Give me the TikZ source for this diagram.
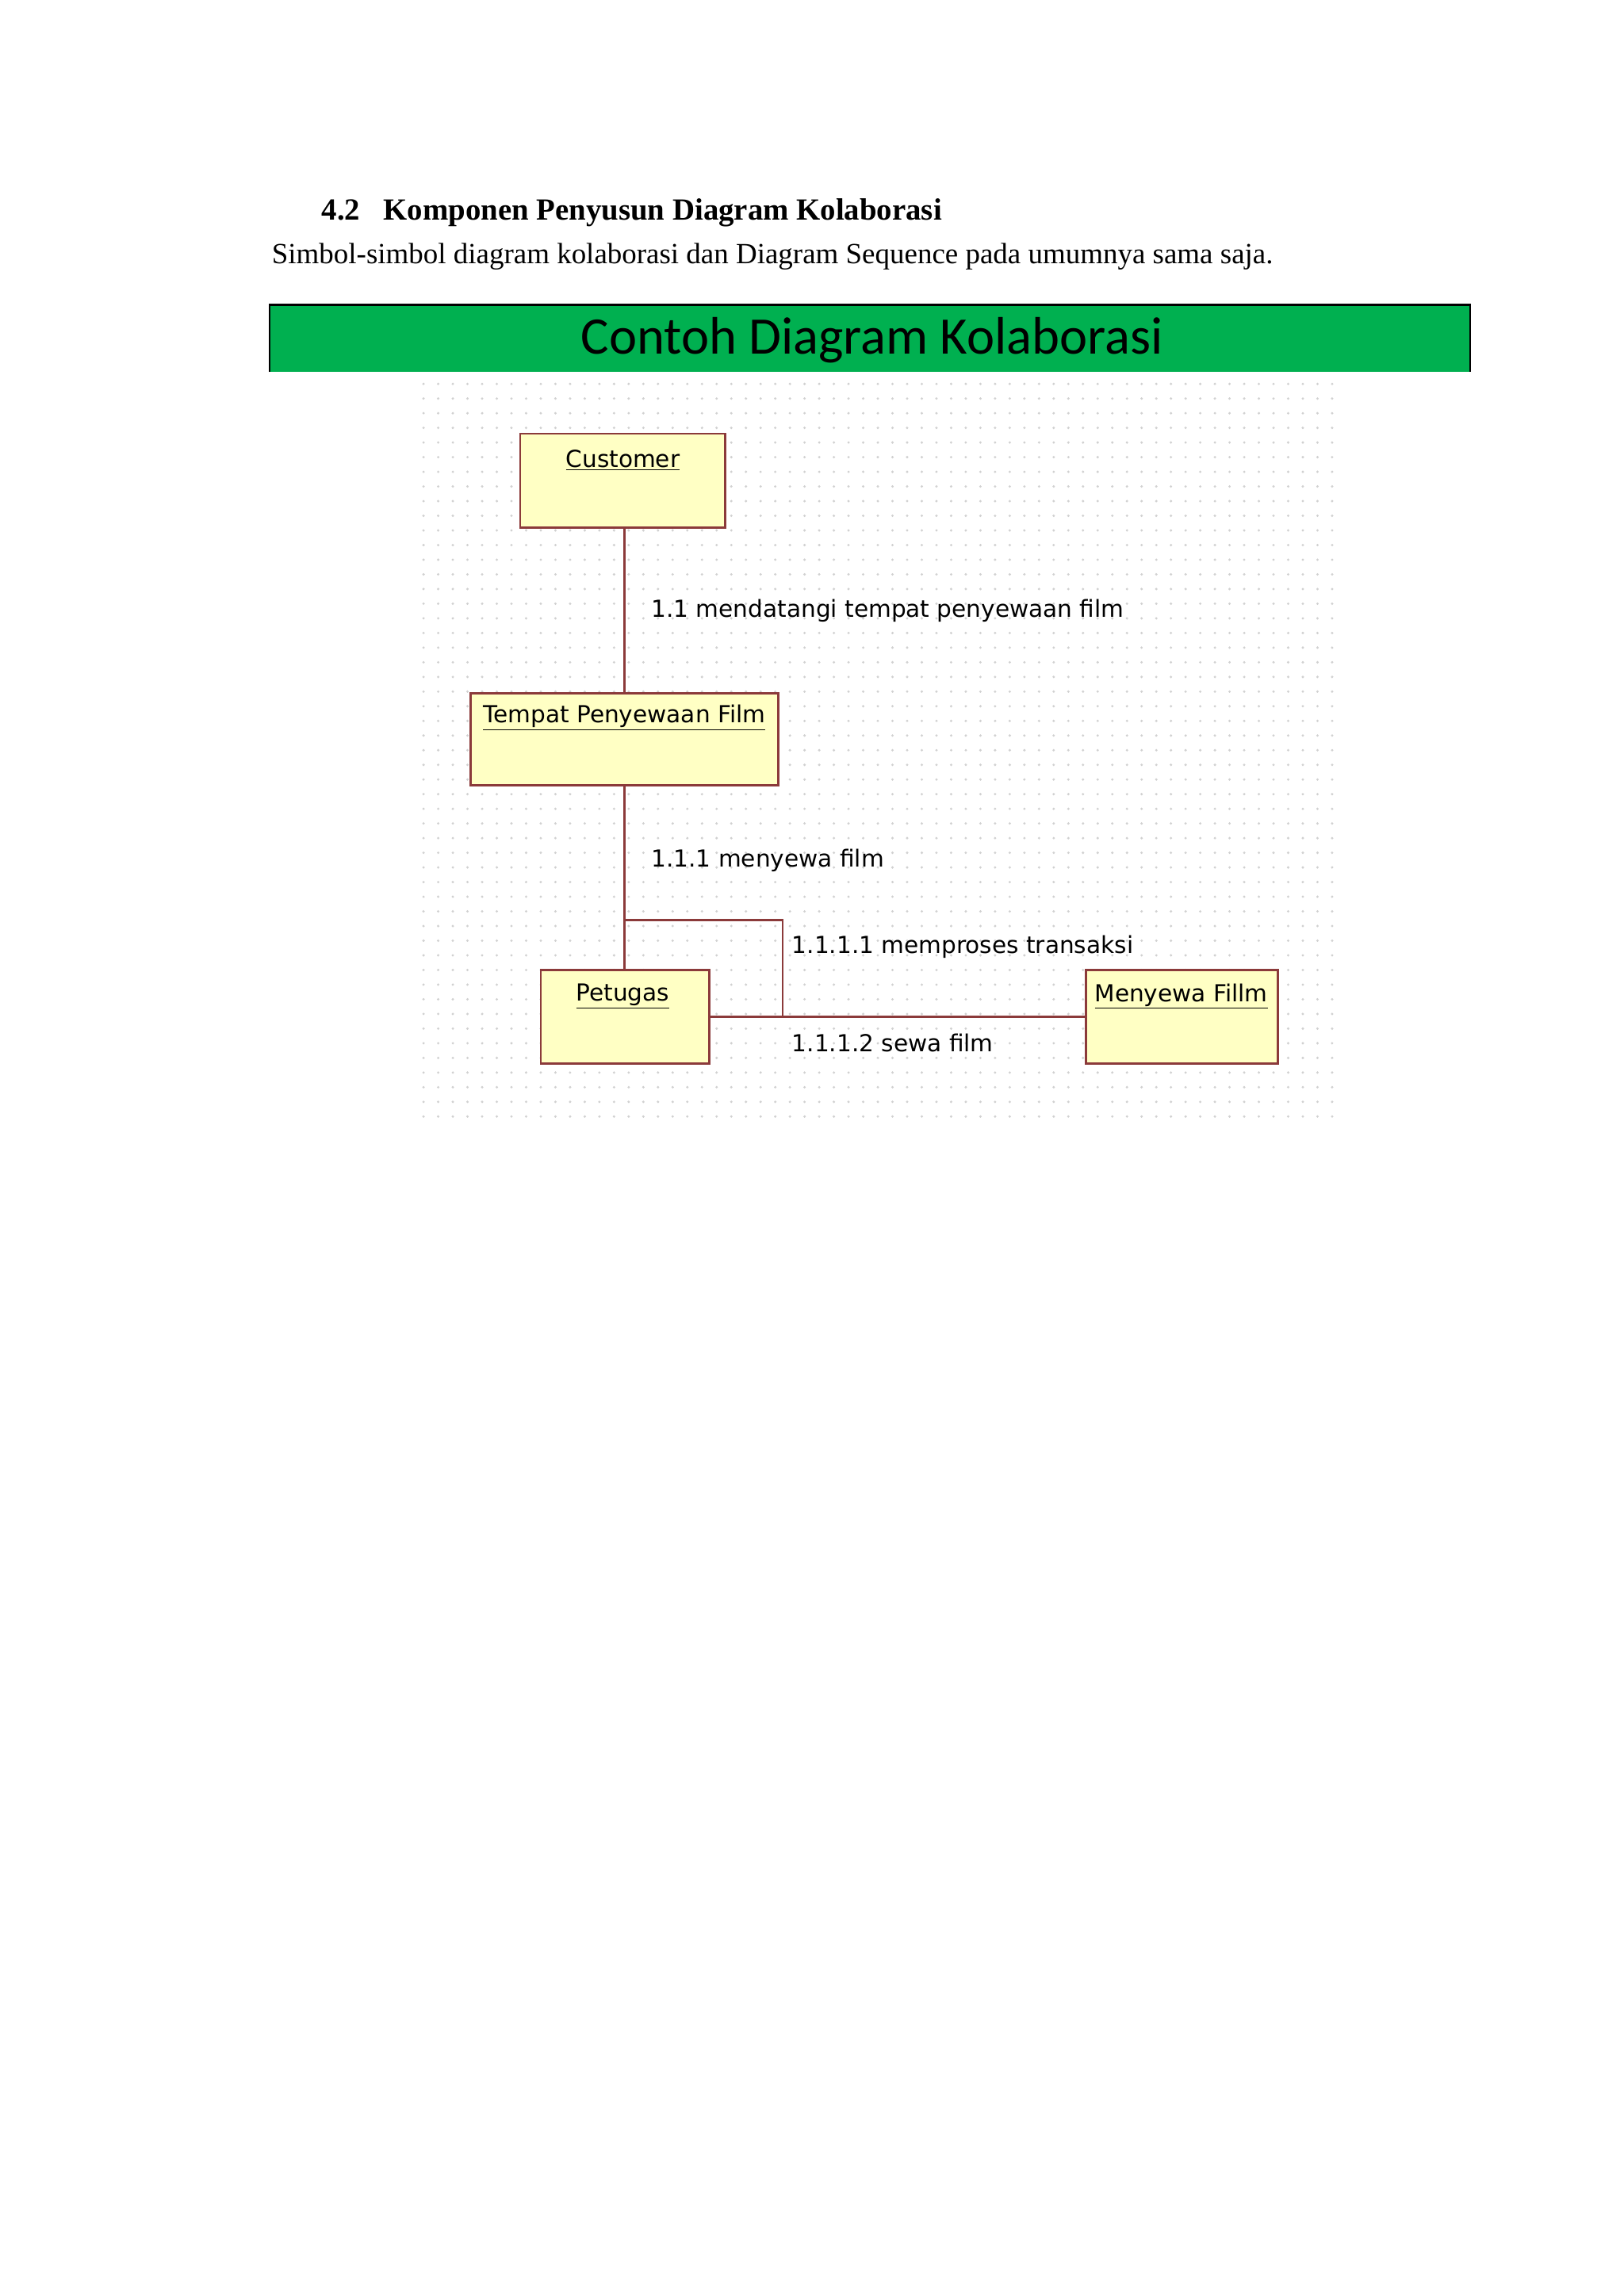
\documentclass[tikz,border=0pt]{standalone}
\usepackage{fontspec}
\setmainfont{Liberation Serif}
\newfontfamily\titlefont{Carlito}
\newfontfamily\umlfont{DejaVu Sans}
\definecolor{dkgreen}{HTML}{00B050}
\definecolor{boxfill}{HTML}{FFFFC4}
\definecolor{boxline}{HTML}{8B3A3A}
\begin{document}
\begin{tikzpicture}[x=1pt,y=-1pt,
  objbox/.style={draw=boxline,line width=1.5pt,fill=boxfill},
  objlabel/.style={font=\umlfont\fontsize{16}{18}\selectfont,anchor=center},
  msg/.style={font=\umlfont\fontsize{16}{18}\selectfont,anchor=west},
  link/.style={draw=boxline,line width=1.5pt}]
\useasboundingbox (0,0) rectangle (1108,1567);
\fill[white] (0,0) rectangle (1108,1567);
\node[anchor=west,font=\bfseries\fontsize{21}{24}\selectfont] (h) at (216,145) {4.2\hspace{16pt}Komponen Penyusun Diagram Kolaborasi};
\node[anchor=west,font=\fontsize{20}{24}\selectfont] (s) at (182,175) {Simbol-simbol diagram kolaborasi dan Diagram Sequence pada umumnya sama saja.};
\fill[dkgreen] (184,208) rectangle (1003,254);
\draw[line width=1.2pt] (184,254) -- (184,208) -- (1003,208) -- (1003,254);
\node[font=\titlefont\fontsize{36}{40}\selectfont] (t) at (595,232) {Contoh Diagram Kolaborasi};
% grid
\foreach \i in {0,...,62}{\foreach \j in {0,...,50}{\fill[black!18] (289+\i*10,262+\j*10) circle (0.9);}}
% boxes
\draw[objbox] (355,296) rectangle (495,360);
\draw[objbox] (321,473) rectangle (531,536);
\draw[objbox] (369,662) rectangle (484,726);
\draw[objbox] (741,662) rectangle (872,726);
\node[objlabel] (c) at (425,314) {\underline{Customer}};
\node[objlabel] (tp) at (426,490) {\underline{Tempat Penyewaan Film}};
\node[objlabel] (p) at (425,680) {\underline{Petugas}};
\node[objlabel] (m) at (806,680) {\underline{Menyewa Fillm}};
\coordinate (c1) at (426,360); \coordinate (t1) at (426,473);
\coordinate (t2) at (426,536); \coordinate (p1) at (426,662);
\coordinate (j1) at (426,628); \coordinate (j2) at (534,628); \coordinate (j3) at (534,694);
\coordinate (pr) at (484,694); \coordinate (ml) at (741,694);
\draw[link] (c1) -- (t1);
\draw[link] (t2) -- (p1);
\draw[link] (j1) -- (j2) -- (j3);
\draw[link] (pr) -- (ml);
\node[msg] at (441,417) {1.1 mendatangi tempat penyewaan film};
\node[msg] at (441,587) {1.1.1 menyewa film};
\node[msg] at (537,646) {1.1.1.1 memproses transaksi};
\node[msg] at (537,712) {1.1.1.2 sewa film};
\end{tikzpicture}
\end{document}
